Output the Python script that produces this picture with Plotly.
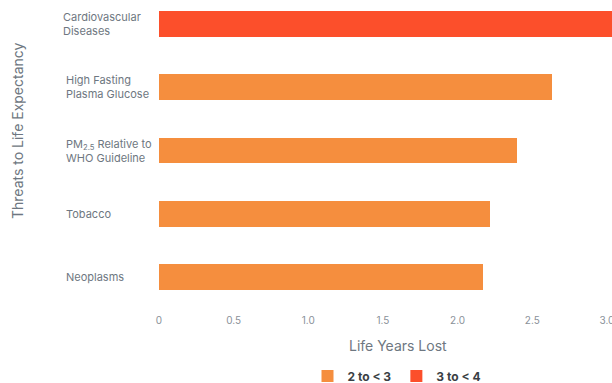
import plotly.graph_objects as go

categories = ["Cardiovascular<br>Diseases", "High Fasting<br>Plasma Glucose",
              "PM<sub>2.5</sub> Relative to<br>WHO Guideline", "Tobacco", "Neoplasms"]
keys = ["cardio", "hfpg", "pm25", "tobacco", "neoplasms"]
values = [3.1, 2.63, 2.40, 2.22, 2.17]
bins = ["3 to < 4", "2 to < 3", "2 to < 3", "2 to < 3", "2 to < 3"]
x_ticks = [0, 0.5, 1.0, 1.5, 2.0, 2.5, 3.0]
x_tick_text = ["0", "0.5", "1.0", "1.5", "2.0", "2.5", "3.0"]

colors = {"2 to < 3": "#F58E3E", "3 to < 4": "#FC4F2B"}
FONT = "Inter"
GRAY = "#6E7781"

fig = go.Figure()
for b in ["2 to < 3", "3 to < 4"]:
    ys = [k for k, bb in zip(keys, bins) if bb == b]
    xs = [v for v, bb in zip(values, bins) if bb == b]
    fig.add_trace(go.Bar(
        x=xs, y=ys, orientation="h", width=0.41,
        marker=dict(color=colors[b], line=dict(width=0)),
        name="<b>" + b.replace("<", "&lt;") + "</b>",
        hoverinfo="skip",
    ))

W, H = 612, 383
L, R, T, B = 159, 0, 0, 78
pw = W - L - R
ph = H - T - B
label_x = {"cardio": 61}
for k, lab in zip(keys, categories):
    fig.add_annotation(
        x=(label_x.get(k, 64) - L) / pw, xref="paper", y=k, yref="y",
        text=lab, showarrow=False, xanchor="left", yanchor="middle",
        align="left", font=dict(family=FONT, size=11, color=GRAY),
    )

fig.add_annotation(x=(398 - L) / pw, xref="paper", y=(ph - 345) / ph, yref="paper",
                   text="Life Years Lost", showarrow=False, xanchor="center", yanchor="middle",
                   font=dict(family=FONT, size=14, color=GRAY))
fig.add_annotation(x=(17 - L) / pw, xref="paper", y=(ph - 131) / ph, yref="paper",
                   text="Threats to Life Expectancy", showarrow=False, textangle=-90,
                   xanchor="center", yanchor="middle",
                   font=dict(family=FONT, size=14, color=GRAY))

fig.update_layout(
    width=W, height=H, margin=dict(l=L, r=R, t=T, b=B, autoexpand=False),
    paper_bgcolor="white", plot_bgcolor="white",
    barmode="overlay", bargap=0,
    showlegend=True,
    legend=dict(orientation="h", x=(397 - L) / pw, xanchor="center",
                y=(ph - 376) / ph, yanchor="middle",
                font=dict(family=FONT, size=12, color="#3A3F45"),
                itemsizing="constant", traceorder="normal", itemwidth=30),
    xaxis=dict(range=[0, pw / 149.3], tickvals=x_ticks, ticktext=x_tick_text,
               showgrid=False, zeroline=False, showline=False,
               ticks="outside", ticklen=6, tickcolor="white",
               ticklabeloverflow="allow",
               tickfont=dict(family=FONT, size=10, color="#8A9199")),
    yaxis=dict(type="category", categoryarray=keys,
               range=[4 + (ph - 277) / 63.25, -24 / 63.25],
               showticklabels=False, showgrid=False, zeroline=False, showline=False),
)

fig.write_html("out.html")
